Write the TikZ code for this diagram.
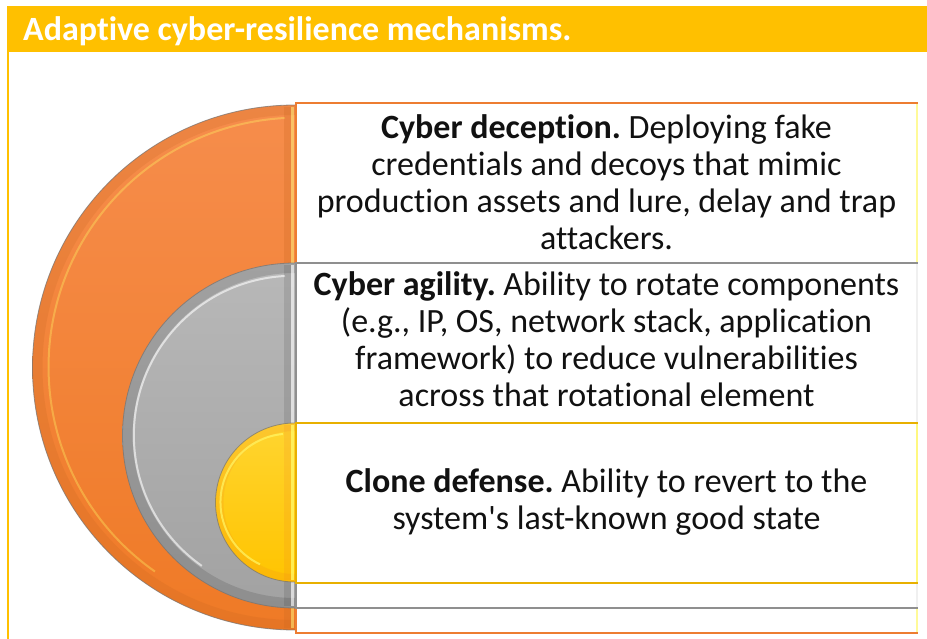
\documentclass[tikz,border=0pt]{standalone}
\usepackage{fontspec}
\setmainfont{Carlito}[Ligatures=NoCommon]
\definecolor{titlebar}{HTML}{FFC000}
\definecolor{orA}{HTML}{F68D4C}
\definecolor{orB}{HTML}{EF7A26}
\definecolor{orLine}{HTML}{ED7D31}
\definecolor{grA}{HTML}{B8B8B8}
\definecolor{grB}{HTML}{A2A2A2}
\definecolor{grLine}{HTML}{8F8F8F}
\definecolor{yeA}{HTML}{FFD530}
\definecolor{yeB}{HTML}{FFC400}
\definecolor{yeLine}{HTML}{E8B000}
\definecolor{txt}{HTML}{111111}
\tikzset{
  bodytext/.style={font=\fontsize{34}{37}\selectfont\frenchspacing, text=txt, align=center, inner sep=0pt},
  titletext/.style={font=\fontsize{34}{40}\selectfont\bfseries, text=white, inner sep=0pt, anchor=base west},
  semioutline/.style={draw=black!55, draw opacity=0.7, line width=0.8pt},
  highlight/.style={draw=white, draw opacity=0.3, line width=2pt},
}
\begin{document}
\begin{tikzpicture}[x=1pt,y=-1pt]
\useasboundingbox (0,0) rectangle (927,639);
\fill[white] (0,0) rectangle (927,639);
% title bar
\fill[titlebar] (7,6) rectangle (927,52);
\draw[titlebar, line width=2pt] (8,52) -- (8,639);
\node[titletext] (title) at (23,41) {Adaptive cyber-resilience mechanisms.};

% ---- orange level ----
\shade[top color=orA, bottom color=orB]
  (295,105) arc[start angle=90, end angle=270, radius=262.5pt] -- cycle;
\draw[orB!80!black, draw opacity=0.18, line width=10pt]
  (295,110) arc[start angle=90, end angle=270, radius=257.5pt];
\draw[highlight, draw=yellow!60!white, draw opacity=0.35]
  (285,118) arc[start angle=93, end angle=235, radius=249.5pt];
\fill[orB!85!black, opacity=0.25] (284,107) rectangle (291,628);
\fill[yellow!50!white, opacity=0.5] (291,107) rectangle (294,628);
\path[semioutline] (295,105) arc[start angle=90, end angle=270, radius=262.5pt];
\draw[orLine, line width=1.6pt, fill=white] (296,103) rectangle (917,633);
\draw[yellow!40!white, line width=1.6pt] (917,104) -- (917,632);

% ---- gray level ----
\shade[top color=grA, bottom color=grB]
  (295,263) arc[start angle=90, end angle=270, radius=172.5pt] -- cycle;
\draw[black, draw opacity=0.12, line width=10pt]
  (295,268) arc[start angle=90, end angle=270, radius=167.5pt];
\draw[highlight, draw opacity=0.6]
  (285,276) arc[start angle=93, end angle=235, radius=159.5pt];
\fill[black, opacity=0.1] (284,265) rectangle (291,606);
\fill[white, opacity=0.6] (291,265) rectangle (294,606);
\path[semioutline] (295,263) arc[start angle=90, end angle=270, radius=172.5pt];
\draw[grLine, line width=1.6pt, fill=white] (296,263) rectangle (917,608);
\draw[white!94!black, line width=1.6pt] (917,264) -- (917,607);

% ---- yellow level ----
\shade[top color=yeA, bottom color=yeB]
  (295,423) arc[start angle=90, end angle=270, radius=79.5pt] -- cycle;
\draw[orB, draw opacity=0.15, line width=8pt]
  (295,427) arc[start angle=90, end angle=270, radius=75.5pt];
\draw[highlight, draw=yellow!60!white, draw opacity=0.7]
  (283,434) arc[start angle=95, end angle=245, radius=68.5pt];
\fill[orB, opacity=0.15] (284,425) rectangle (291,580);
\fill[yellow!60!white, opacity=0.8] (291,425) rectangle (294,580);
\path[semioutline] (295,423) arc[start angle=90, end angle=270, radius=79.5pt];
\draw[yeLine, line width=1.6pt, fill=white] (296,423) rectangle (917,583);
\draw[yellow!50!white, line width=1.6pt] (917,424) -- (917,582);

% ---- texts ----
\node[bodytext] (t1) at (606.5,182) {\textbf{Cyber deception.} Deploying fake\\credentials and decoys that mimic\\production assets and lure, delay and trap\\attackers.};
\node[bodytext] (t2) at (606.5,339) {\textbf{Cyber agility.} Ability to rotate components\\(e.g., IP, OS, network stack, application\\framework) to reduce vulnerabilities\\across that rotational element};
\node[bodytext] (t3) at (606.5,501.5) {\textbf{Clone defense.} Ability to revert to the\\system\textquotesingle s last-known good state};
\end{tikzpicture}
\end{document}
